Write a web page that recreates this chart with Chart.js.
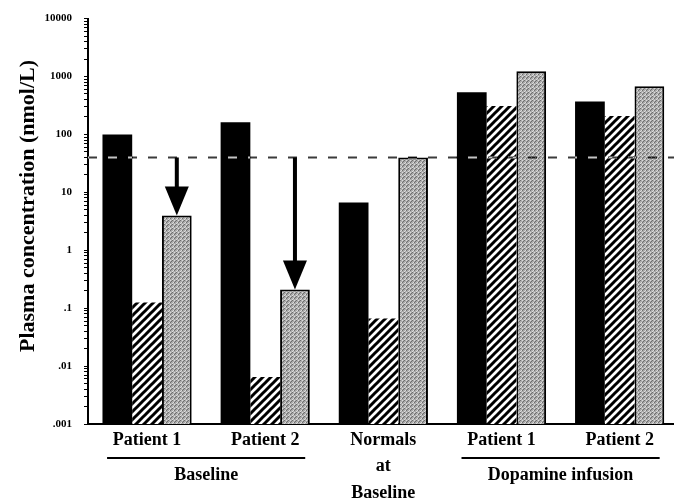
<!DOCTYPE html>
<html>
<head>
<meta charset="utf-8">
<script src="https://cdn.jsdelivr.net/npm/chart.js@4/dist/chart.umd.min.js"></script>
<style>
  html, body { margin: 0; padding: 0; background: #fff; }
  canvas { display: block; }
</style>
</head>
<body>
<canvas id="plasmaChart" width="674" height="503"></canvas>
<script>
// categories along the x axis
var categories = ['Patient 1', 'Patient 2', ['Normals', 'at', 'Baseline'], 'Patient 1', 'Patient 2'];

// plasma concentrations (nmol/L)
var solidValues = [100, 162, 6.7, 537, 372];
var hatchedValues = [0.125, 0.0065, 0.066, 309, 208];
var stippledValues = [4.0, 0.21, 40, 1230, 676];

// dashed reference level and the bars that get an arrow down to them
var referenceLevel = 40;
var arrowCategories = [0, 1];

// y tick labels
var yTickValues = [0.001, 0.01, 0.1, 1, 10, 100, 1000, 10000];
var yTickLabels = ['.001', '.01', '.1', '1', '10', '100', '1000', '10000'];

// brackets under the category labels
var groupNames = ['Baseline', 'Dopamine infusion'];
var groupFrom = [0, 3];
var groupTo = [1, 4];

var serif = "'Liberation Serif', 'Times New Roman', serif";

// diagonal hatch fill
function makeHatch() {
    var c = document.createElement('canvas');
    c.width = 8; c.height = 8;
    var g = c.getContext('2d');
    g.fillStyle = '#fff';
    g.fillRect(0, 0, 8, 8);
    g.strokeStyle = '#000';
    g.lineWidth = 3;
    g.beginPath();
    g.moveTo(-2, 10); g.lineTo(10, -2);
    g.moveTo(-6, 6); g.lineTo(6, -6);
    g.moveTo(2, 14); g.lineTo(14, 2);
    g.stroke();
    return g.createPattern(c, 'repeat');
}

// grey stipple fill
function makeStipple() {
    var c = document.createElement('canvas');
    c.width = 4; c.height = 4;
    var g = c.getContext('2d');
    g.fillStyle = '#ababab';
    g.fillRect(0, 0, 4, 4);
    g.fillStyle = '#6e6e6e';
    g.fillRect(0, 0, 1, 1); g.fillRect(2, 2, 1, 1); g.fillRect(3, 1, 1, 1);
    g.fillStyle = '#dcdcdc';
    g.fillRect(1, 2, 1, 1); g.fillRect(2, 0, 1, 1); g.fillRect(0, 3, 1, 1);
    return g.createPattern(c, 'repeat');
}

function toPoints(values) {
    return values.map(function (v, i) { return { x: i, y: v }; });
}

var overlay = {
    id: 'overlay',
    beforeDraw: function (chart) {
        var ctx = chart.ctx;
        ctx.save();
        ctx.fillStyle = '#fff';
        ctx.fillRect(0, 0, chart.width, chart.height);
        ctx.restore();
    },
    afterDatasetsDraw: function (chart) {
        var ctx = chart.ctx;
        var area = chart.chartArea;
        var yRef = chart.scales.y.getPixelForValue(referenceLevel);

        // dashed reference line (dark on white, light on black bars)
        ctx.save();
        ctx.globalCompositeOperation = 'difference';
        ctx.strokeStyle = '#c4c4c4';
        ctx.lineWidth = 2;
        ctx.setLineDash([9, 11]);
        ctx.beginPath();
        ctx.moveTo(area.left, yRef);
        ctx.lineTo(area.right, yRef);
        ctx.stroke();
        ctx.restore();

        // arrows from the reference line down to the stippled bars
        var meta = chart.getDatasetMeta(2);
        ctx.save();
        ctx.fillStyle = '#000';
        arrowCategories.forEach(function (i) {
            var bar = meta.data[i];
            var headH = 29, headW = 24;
            ctx.fillRect(bar.x - 2, yRef, 4, bar.y - headH - yRef + 1);
            ctx.beginPath();
            ctx.moveTo(bar.x - headW / 2, bar.y - headH);
            ctx.lineTo(bar.x + headW / 2, bar.y - headH);
            ctx.lineTo(bar.x, bar.y);
            ctx.closePath();
            ctx.fill();
        });
        ctx.restore();
    },
    afterDraw: function (chart) {
        var ctx = chart.ctx;
        var x = chart.scales.x;
        ctx.save();
        ctx.fillStyle = '#000';
        ctx.strokeStyle = '#000';
        ctx.font = 'bold 18px ' + serif;
        ctx.textAlign = 'center';
        ctx.textBaseline = 'middle';
        groupNames.forEach(function (name, k) {
            var x0 = x.getPixelForValue(groupFrom[k]) - 40;
            var x1 = x.getPixelForValue(groupTo[k]) + 40;
            ctx.lineWidth = 2;
            ctx.beginPath();
            ctx.moveTo(x0, 458);
            ctx.lineTo(x1, 458);
            ctx.stroke();
            ctx.fillText(name, (x0 + x1) / 2, 475);
        });

        // y axis title
        ctx.translate(28, 206);
        ctx.rotate(-Math.PI / 2);
        ctx.font = 'bold 22px ' + serif;
        ctx.fillText('Plasma concentration (nmol/L)', 0, 0);
        ctx.restore();
    }
};

document.addEventListener('DOMContentLoaded', function () {
    var ctx = document.getElementById('plasmaChart').getContext('2d');

    var data = {
        datasets: [{
            data: toPoints(solidValues),
            backgroundColor: '#000',
            borderWidth: 0
        }, {
            data: toPoints(hatchedValues),
            backgroundColor: makeHatch(),
            borderColor: '#000',
            borderWidth: 0
        }, {
            data: toPoints(stippledValues),
            backgroundColor: makeStipple(),
            borderColor: '#000',
            borderWidth: 2
        }]
    };

    var options = {
        responsive: false,
        animation: false,
        layout: { padding: { top: 15, left: 0, right: 0, bottom: 0 } },
        datasets: {
            bar: { categoryPercentage: 0.755, barPercentage: 1 }
        },
        plugins: {
            legend: { display: false },
            tooltip: { enabled: false }
        },
        scales: {
            x: {
                type: 'linear',
                offset: false,
                min: -0.5,
                max: 4.46,
                afterBuildTicks: function (s) {
                    s.ticks = categories.map(function (_, i) { return { value: i }; });
                },
                afterFit: function (s) { s.height = 79; },
                grid: { display: false, drawTicks: false, offset: false },
                border: { display: true, color: '#000', width: 2 },
                ticks: {
                    autoSkip: false,
                    maxRotation: 0,
                    padding: 3,
                    color: '#000',
                    font: { family: serif, size: 18, weight: 'bold', lineHeight: 1.47 },
                    callback: function (v) { return categories[v]; }
                }
            },
            y: {
                type: 'logarithmic',
                min: 0.001,
                max: 10000,
                afterBuildTicks: function (s) {
                    var t = [];
                    for (var e = -3; e <= 4; e++) {
                        for (var m = 1; m <= 9; m++) {
                            var v = m * Math.pow(10, e);
                            if (v <= 10000 * 1.0001) t.push({ value: v });
                        }
                    }
                    s.ticks = t;
                },
                afterFit: function (s) { s.width = 88; },
                grid: {
                    display: true,
                    drawOnChartArea: false,
                    drawTicks: true,
                    tickLength: 4,
                    color: '#000'
                },
                border: { display: true, color: '#000', width: 2 },
                ticks: {
                    autoSkip: false,
                    padding: 12,
                    color: '#000',
                    font: { family: serif, size: 11, weight: 'bold' },
                    callback: function (v) {
                        for (var k = 0; k < yTickValues.length; k++) {
                            if (Math.abs(v - yTickValues[k]) < yTickValues[k] * 1e-6) return yTickLabels[k];
                        }
                        return '';
                    }
                }
            }
        }
    };

    new Chart(ctx, {
        type: 'bar',
        data: data,
        options: options,
        plugins: [overlay]
    });
});
</script>
</body>
</html>
